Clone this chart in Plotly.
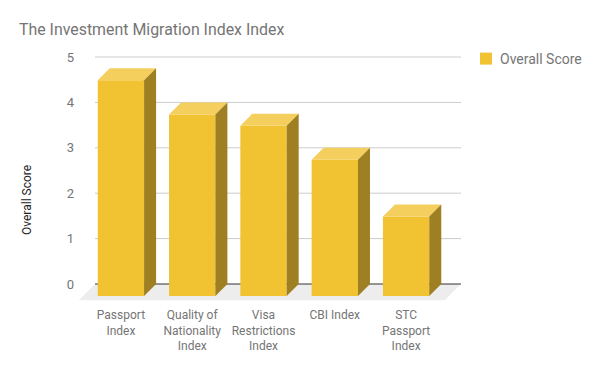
import plotly.graph_objects as go

categories = ["Passport<br>Index", "Quality of<br>Nationality<br>Index", "Visa<br>Restrictions<br>Index", "CBI Index", "STC<br>Passport<br>Index"]
overall_score = [4.75, 4.0, 3.75, 3.0, 1.75]
y_ticks = [0, 1, 2, 3, 4, 5]

FRONT = "#f1c232"
TOP = "#f4cf5e"
SIDE = "#9e7f21"
FLOOR = "#ededed"
GRAY = "#757575"
FONT = "Roboto"

bar_w = 0.65
dx = 12 / 71.3
dy = 12 / 45.4
xs = list(range(len(overall_score)))
x_min, x_max = -0.588, 4.77
y_min, y_max = -17 / 45.4, 5.022
back_left = -0.363  # back edge of the scene
fl = 1.35

fig = go.Figure()
fig.add_trace(go.Bar(
    x=xs, y=overall_score, base=[-dy] * len(xs), width=bar_w,
    marker=dict(color=FRONT, line=dict(width=0)),
    name="Overall Score"))
for x, v in zip(xs, overall_score):
    l, r = x - bar_w / 2, x + bar_w / 2
    top = v - dy
    fig.add_trace(go.Scatter(
        x=[l, r, r + dx, l + dx, l], y=[top, top, v, v, top],
        mode="lines", line=dict(width=0), fill="toself", fillcolor=TOP,
        showlegend=False, hoverinfo="skip"))
    fig.add_trace(go.Scatter(
        x=[r, r + dx, r + dx, r, r], y=[top, v, 0, -dy, top],
        mode="lines", line=dict(width=0), fill="toself", fillcolor=SIDE,
        showlegend=False, hoverinfo="skip"))

floor_path = "M {} 0 L {} 0 L {} {} L {} {} Z".format(
    back_left, x_max, x_max - dx * fl, -dy * fl, back_left - dx * fl, -dy * fl)
shapes = [dict(type="path", path=floor_path, xref="x", yref="y",
               fillcolor=FLOOR, line=dict(width=0), layer="below")]
for t in y_ticks:
    shapes.append(dict(type="line", xref="x", yref="y", x0=back_left, x1=x_max, y0=t, y1=t,
                       line=dict(color="#333333" if t == 0 else "#cccccc", width=1), layer="below"))

fig.update_layout(
    width=600, height=371,
    margin=dict(l=79, r=139, t=56, b=70, autoexpand=False),
    paper_bgcolor="white", plot_bgcolor="white",
    font=dict(family=FONT, size=12, color=GRAY),
    title=dict(text="The Investment Migration Index Index", x=19 / 600, xanchor="left",
               y=1 - 29 / 371, yanchor="middle", font=dict(family=FONT, size=15.9, color=GRAY)),
    xaxis=dict(range=[x_min, x_max], tickvals=xs, ticktext=categories,
               showgrid=False, zeroline=False, showline=False, ticks="",
               ticklabelstandoff=5, tickfont=dict(size=12, color=GRAY)),
    yaxis=dict(range=[y_min, y_max], tickvals=y_ticks, showgrid=False,
               zeroline=False, showline=False, ticks="",
               ticklabelstandoff=4, tickfont=dict(size=13, color=GRAY)),
    legend=dict(x=460 / 600, xanchor="left", y=1 - 43 / 371, yanchor="top",
                yref="container", xref="container",
                font=dict(size=14, color=GRAY), bgcolor="rgba(0,0,0,0)"),
    shapes=shapes,
    annotations=[dict(text="Overall Score", textangle=-90, x=(27 - 79) / 382, y=(301 - 200) / 245,
                      xref="paper", yref="paper", xanchor="center", yanchor="middle", showarrow=False,
                      font=dict(size=12, color="#222222"))],
)
fig.write_html(
    "out.html",
    config={"displayModeBar": False},
    post_script=(
        "document.body.style.margin='0';"
        "document.querySelectorAll('.legendpoints').forEach(function(g){g.setAttribute('transform','translate(6,0)');});"
    ),
)
